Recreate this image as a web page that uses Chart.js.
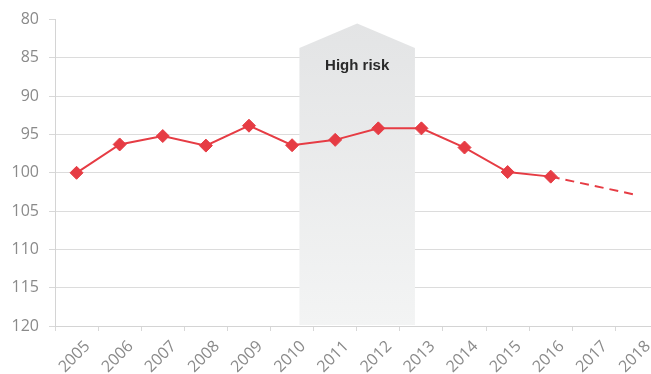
<!DOCTYPE html>
<html>
<head>
<meta charset="utf-8">
<script src="https://cdn.jsdelivr.net/npm/chart.js@4.4.0/dist/chart.umd.min.js"></script>
<style>
  html, body { margin: 0; padding: 0; background: #fff; overflow: hidden; }
  #wrap { position: relative; width: 666px; height: 374px; }
</style>
</head>
<body>
<div id="wrap"><canvas id="riskChart"></canvas></div>
<script>
// Categories and series
const years = ["2005", "2006", "2007", "2008", "2009", "2010", "2011",
  "2012", "2013", "2014", "2015", "2016", "2017", "2018"];
const actual = [100, 96.3, 95.2, 96.45, 93.85, 96.4, 95.7,
  94.2, 94.2, 96.7, 99.9, 100.5, null, null];
const forecast = [null, null, null, null, null, null, null,
  null, null, null, null, 100.5, 101.7, 102.9];
const yTicks = [80, 85, 90, 95, 100, 105, 110, 115, 120];

// "High risk" band in data units (category index / axis value)
const bandLabel = "High risk";
const bandFrom = 5.17;
const bandTo = 7.85;
const bandPeak = 80.5;
const bandShoulder = 83.7;

const RED = "#e63c44";
const TICK_FONT = { family: "'Open Sans', sans-serif", size: 16 };

// draws the shaded house-shaped band behind the line
const riskBandPlugin = {
  id: "riskBand",
  beforeDatasetsDraw(chart) {
    const { ctx, chartArea, scales } = chart;
    const x = scales.x;
    const y = scales.y;
    const left = x.getPixelForValue(bandFrom);
    const right = x.getPixelForValue(bandTo);
    const mid = (left + right) / 2;
    const peak = y.getPixelForValue(bandPeak);
    const shoulder = y.getPixelForValue(bandShoulder);
    const bottom = chartArea.bottom - 1;

    const grad = ctx.createLinearGradient(0, peak, 0, bottom);
    grad.addColorStop(0, "#e3e4e5");
    grad.addColorStop(1, "#f3f4f4");

    ctx.save();
    ctx.beginPath();
    ctx.moveTo(left, bottom);
    ctx.lineTo(left, shoulder);
    ctx.lineTo(mid, peak);
    ctx.lineTo(right, shoulder);
    ctx.lineTo(right, bottom);
    ctx.closePath();
    ctx.fillStyle = grad;
    ctx.fill();

    ctx.fillStyle = "#2a2a2a";
    ctx.font = "bold 15px 'Liberation Sans', Arial, sans-serif";
    ctx.textAlign = "center";
    ctx.textBaseline = "middle";
    ctx.fillText(bandLabel, mid, y.getPixelForValue(86));
    ctx.restore();
  },
};

function buildChart() {
  const canvas = document.getElementById("riskChart");
  new Chart(canvas, {
    type: "line",
    data: {
      labels: years,
      datasets: [
        {
          label: "Actual",
          data: actual,
          borderColor: RED,
          backgroundColor: RED,
          borderWidth: 2,
          tension: 0,
          pointStyle: "rectRot",
          pointRadius: 6.5,
          pointBorderWidth: 1,
          pointBorderColor: RED,
          pointBackgroundColor: RED,
          pointHoverRadius: 6.5,
        },
        {
          label: "Forecast",
          data: forecast,
          borderColor: RED,
          borderWidth: 2,
          borderDash: [9, 6],
          tension: 0,
          pointRadius: 0,
          pointHoverRadius: 0,
        },
      ],
    },
    options: {
      responsive: true,
      maintainAspectRatio: false,
      animation: false,
      events: [],
      layout: {
        padding: { top: 17, right: 0, bottom: 0, left: 0 },
      },
      plugins: {
        legend: { display: false },
        tooltip: { enabled: false },
      },
      scales: {
        x: {
          type: "category",
          offset: true,
          grid: {
            offset: true,
            drawOnChartArea: false,
            drawTicks: true,
            tickLength: 5,
            tickColor: "#d8d8d8",
          },
          border: { color: "#d4d4d4" },
          ticks: {
            color: "#8a8a8a",
            font: TICK_FONT,
            autoSkip: false,
            maxRotation: 45,
            minRotation: 45,
            labelOffset: 11,
            padding: 6,
          },
          afterFit(scale) {
            scale.height = 48;
          },
        },
        y: {
          reverse: true,
          min: 80,
          max: 120,
          afterBuildTicks(scale) {
            scale.ticks = yTicks.map(v => ({ value: v }));
          },
          grid: {
            color: ctx => (ctx.tick && ctx.tick.value === 80 ? "rgba(0,0,0,0)" : "#dcdcdc"),
            tickColor: "#d8d8d8",
            tickLength: 6,
          },
          border: { color: "#d4d4d4" },
          ticks: {
            color: "#8a8a8a",
            font: TICK_FONT,
            padding: 10,
          },
          afterFit(scale) {
            scale.width = 55;
          },
        },
      },
    },
    plugins: [riskBandPlugin],
  });
}

document.addEventListener("DOMContentLoaded", buildChart);
</script>
</body>
</html>
